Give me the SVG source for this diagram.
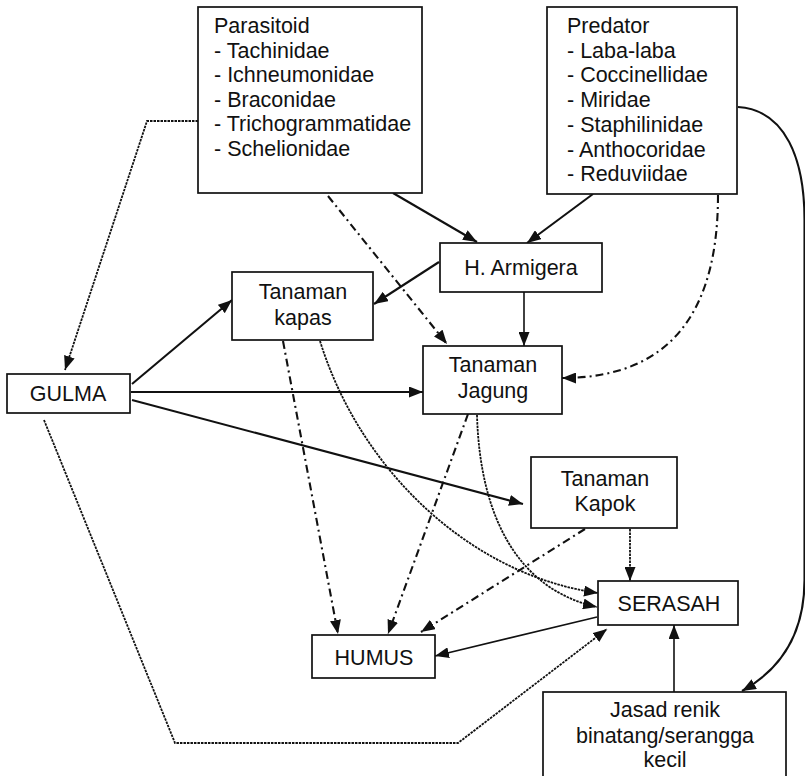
<svg xmlns="http://www.w3.org/2000/svg" width="805" height="776" viewBox="0 0 805 776">
<style>
.box{fill:#fff;stroke:#111;stroke-width:1.7}
text{font-family:"Liberation Sans",Arial,sans-serif;font-size:21.5px;fill:#111}
.c{text-anchor:middle}
.solid{fill:none;stroke:#111;stroke-width:2.1}
.thin{fill:none;stroke:#111;stroke-width:1.6}
.dot{fill:none;stroke:#111;stroke-width:1.8;stroke-dasharray:2.5 1}
.dd{fill:none;stroke:#111;stroke-width:2.1;stroke-dasharray:8 4 2 4}
</style>
<defs>
<marker id="ah" markerUnits="userSpaceOnUse" markerWidth="14" markerHeight="11" refX="14" refY="5.5" orient="auto"><path d="M0,0 L14,5.5 L0,11 z" fill="#111"/></marker>
</defs>
<rect width="805" height="776" fill="#fff"/>
<g id="connectors">
<path class="solid" d="M393,193 L477,242" marker-end="url(#ah)"/>
<path class="solid" d="M593,194 L527,243" marker-end="url(#ah)"/>
<path class="solid" d="M439,262 L374,304" marker-end="url(#ah)"/>
<path class="thin" d="M524,292 L524,346" marker-end="url(#ah)"/>
<path class="dd" d="M328,196 L447,344" marker-end="url(#ah)"/>
<path class="dd" d="M718,195 C718,300 680,378 562,378" marker-end="url(#ah)"/>
<path class="dot" d="M198,121 L147,121 L65,370" marker-end="url(#ah)"/>
<path class="solid" d="M132,384 L232,300" marker-end="url(#ah)"/>
<path class="solid" d="M131,392 L423,392" marker-end="url(#ah)"/>
<path class="solid" d="M132,400 L523,504" marker-end="url(#ah)"/>
<path class="dot" d="M44,420 L175,743 L458,743 L607,629" marker-end="url(#ah)"/>
<path class="dd" d="M283,341 L338,634" marker-end="url(#ah)"/>
<path class="dot" d="M320,341 C360,470 470,575 598,593" marker-end="url(#ah)"/>
<path class="dot" d="M477,415 C480,520 520,590 597,607" marker-end="url(#ah)"/>
<path class="dd" d="M468,414 L388,634" marker-end="url(#ah)"/>
<path class="dd" d="M585,529 L421,632" marker-end="url(#ah)"/>
<path class="dot" d="M630,529 L630,581" marker-end="url(#ah)"/>
<path class="thin" d="M597,617 L435,656" marker-end="url(#ah)"/>
<path class="thin" d="M674,692 L674,625" marker-end="url(#ah)"/>
<path class="solid" d="M738,107 C786,110 804.5,160 804.5,220 L804.5,580 C804.5,640 776,672 742,691" marker-end="url(#ah)"/>
</g>
<g id="parasitoid">
<rect class="box" x="198" y="7" width="224" height="186"/>
<text x="214" y="33">Parasitoid</text>
<text x="214" y="57.5">- Tachinidae</text>
<text x="214" y="82">- Ichneumonidae</text>
<text x="214" y="106.5">- Braconidae</text>
<text x="214" y="131">- Trichogrammatidae</text>
<text x="214" y="155.5">- Schelionidae</text>
</g>
<g id="predator">
<rect class="box" x="547" y="7" width="190" height="187"/>
<text x="567" y="33">Predator</text>
<text x="567" y="57.7">- Laba-laba</text>
<text x="567" y="82.4">- Coccinellidae</text>
<text x="567" y="107.1">- Miridae</text>
<text x="567" y="131.8">- Staphilinidae</text>
<text x="567" y="156.5">- Anthocoridae</text>
<text x="567" y="181.2">- Reduviidae</text>
</g>
<g id="harmigera">
<rect class="box" x="440" y="243" width="162" height="49"/>
<text class="c" x="521" y="275">H. Armigera</text>
</g>
<g id="kapas">
<rect class="box" x="232" y="272" width="141" height="68"/>
<text class="c" x="303" y="299">Tanaman</text>
<text class="c" x="303" y="325">kapas</text>
</g>
<g id="gulma">
<rect class="box" x="7" y="374" width="123" height="39"/>
<text class="c" x="68" y="401">GULMA</text>
</g>
<g id="jagung">
<rect class="box" x="423" y="346" width="139" height="68"/>
<text class="c" x="493" y="372">Tanaman</text>
<text class="c" x="493" y="398">Jagung</text>
</g>
<g id="kapok">
<rect class="box" x="531" y="457" width="146" height="71"/>
<text class="c" x="605" y="486">Tanaman</text>
<text class="c" x="605" y="511">Kapok</text>
</g>
<g id="serasah">
<rect class="box" x="598" y="581" width="140" height="44"/>
<text class="c" x="669" y="611">SERASAH</text>
</g>
<g id="humus">
<rect class="box" x="312" y="635" width="123" height="43"/>
<text class="c" x="374" y="665">HUMUS</text>
</g>
<g id="jasad">
<rect class="box" x="543" y="692" width="243" height="100"/>
<text class="c" x="665" y="717">Jasad renik</text>
<text class="c" x="665" y="743">binatang/serangga</text>
<text class="c" x="665" y="767">kecil</text>
</g>
</svg>
